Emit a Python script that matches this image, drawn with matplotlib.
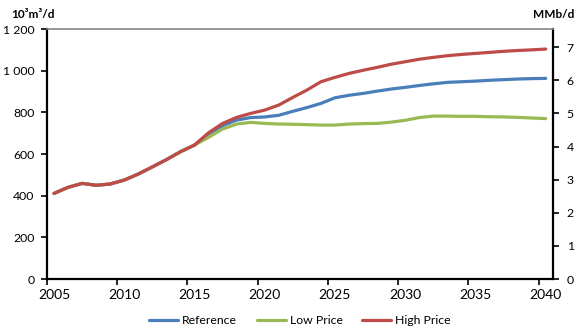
import matplotlib
matplotlib.use("Agg")
import matplotlib.pyplot as plt
import numpy as np

plt.rcParams['font.family'] = ['Lato', 'DejaVu Sans']

years = list(range(2005, 2041))
common = [411, 440, 459, 450, 456, 475, 504, 538, 573, 611, 643]
high_price = common + [702, 747, 776, 795, 811, 835, 872, 907, 947, 968, 987, 1002,
                       1016, 1031, 1043, 1055, 1064, 1072, 1078, 1083, 1088, 1093,
                       1097, 1100, 1104]
reference = common + [697, 736, 763, 775, 778, 786, 805, 823, 843, 870, 882, 891,
                      902, 912, 920, 929, 937, 944, 947, 950, 954, 957, 960, 962, 963]
low_price = common + [680, 720, 744, 752, 747, 744, 743, 741, 739, 739, 744, 746,
                      747, 753, 762, 775, 782, 782, 781, 781, 779, 778, 776, 773, 770]

series_names = ["Reference", "Low Price", "High Price"]
series_colors = ["#4A7EBB", "#98B954", "#BE4B48"]
left_ticks = [0, 200, 400, 600, 800, 1000, 1200]
left_labels = ["0", "200", "400", "600", "800", "1 000", "1 200"]
right_ticks = [0, 1, 2, 3, 4, 5, 6, 7]
year_labels = [2005, 2010, 2015, 2020, 2025, 2030, 2035, 2040]
M3_PER_BBL = 0.158987

fig = plt.figure(figsize=(5.8, 3.3), dpi=100)
ax = fig.add_axes([0.081, 0.1545, 0.872, 0.7575])

for vals, name, col in zip([reference, low_price, high_price], series_names, series_colors):
    ax.plot(years, vals, color=col, lw=2.3, label=name, solid_capstyle='round')

ax.set_xlim(2004.5, 2040.5)
ax.set_ylim(0, 1200)
ax.set_yticks(left_ticks)
ax.set_yticklabels(left_labels)

# category boundaries as tick marks, labels centred on categories
ax.set_xticks([y - 0.5 for y in year_labels])
ax.set_xticklabels([])
ax.set_xticks(year_labels, minor=True)
ax.set_xticklabels([str(y) for y in year_labels], minor=True)
ax.tick_params(axis='x', which='minor', length=0, pad=7)
ax.tick_params(axis='x', which='major', length=4, width=1.2, direction='out')
ax.tick_params(axis='y', length=4, width=1.2, direction='out', pad=5)
ax.tick_params(labelsize=8.8, colors='black')

for s in ['left', 'bottom', 'right']:
    ax.spines[s].set_linewidth(1.6)
    ax.spines[s].set_color('black')
ax.spines['top'].set_color('#888888')
ax.spines['top'].set_linewidth(1.2)

ax2 = ax.twinx()
ax2.set_ylim(0, 1200 * 1000 / M3_PER_BBL / 1e6)
ax2.set_yticks(right_ticks)
ax2.tick_params(axis='y', length=4, width=1.2, direction='out', labelsize=8.8, pad=6)
for s in ax2.spines.values():
    s.set_visible(False)

fig.text(0.02, 0.955, "10³m³/d", fontsize=8.5, fontweight='bold', ha='left', va='center')
fig.text(0.99, 0.955, "MMb/d", fontsize=8.5, fontweight='bold', ha='right', va='center')

ax.legend(loc='upper center', bbox_to_anchor=(0.5, -0.1), ncol=3, frameon=False,
          fontsize=8.8, handlelength=2.4, handletextpad=0.3, columnspacing=1.6)

fig.savefig("out.png", dpi=100)
